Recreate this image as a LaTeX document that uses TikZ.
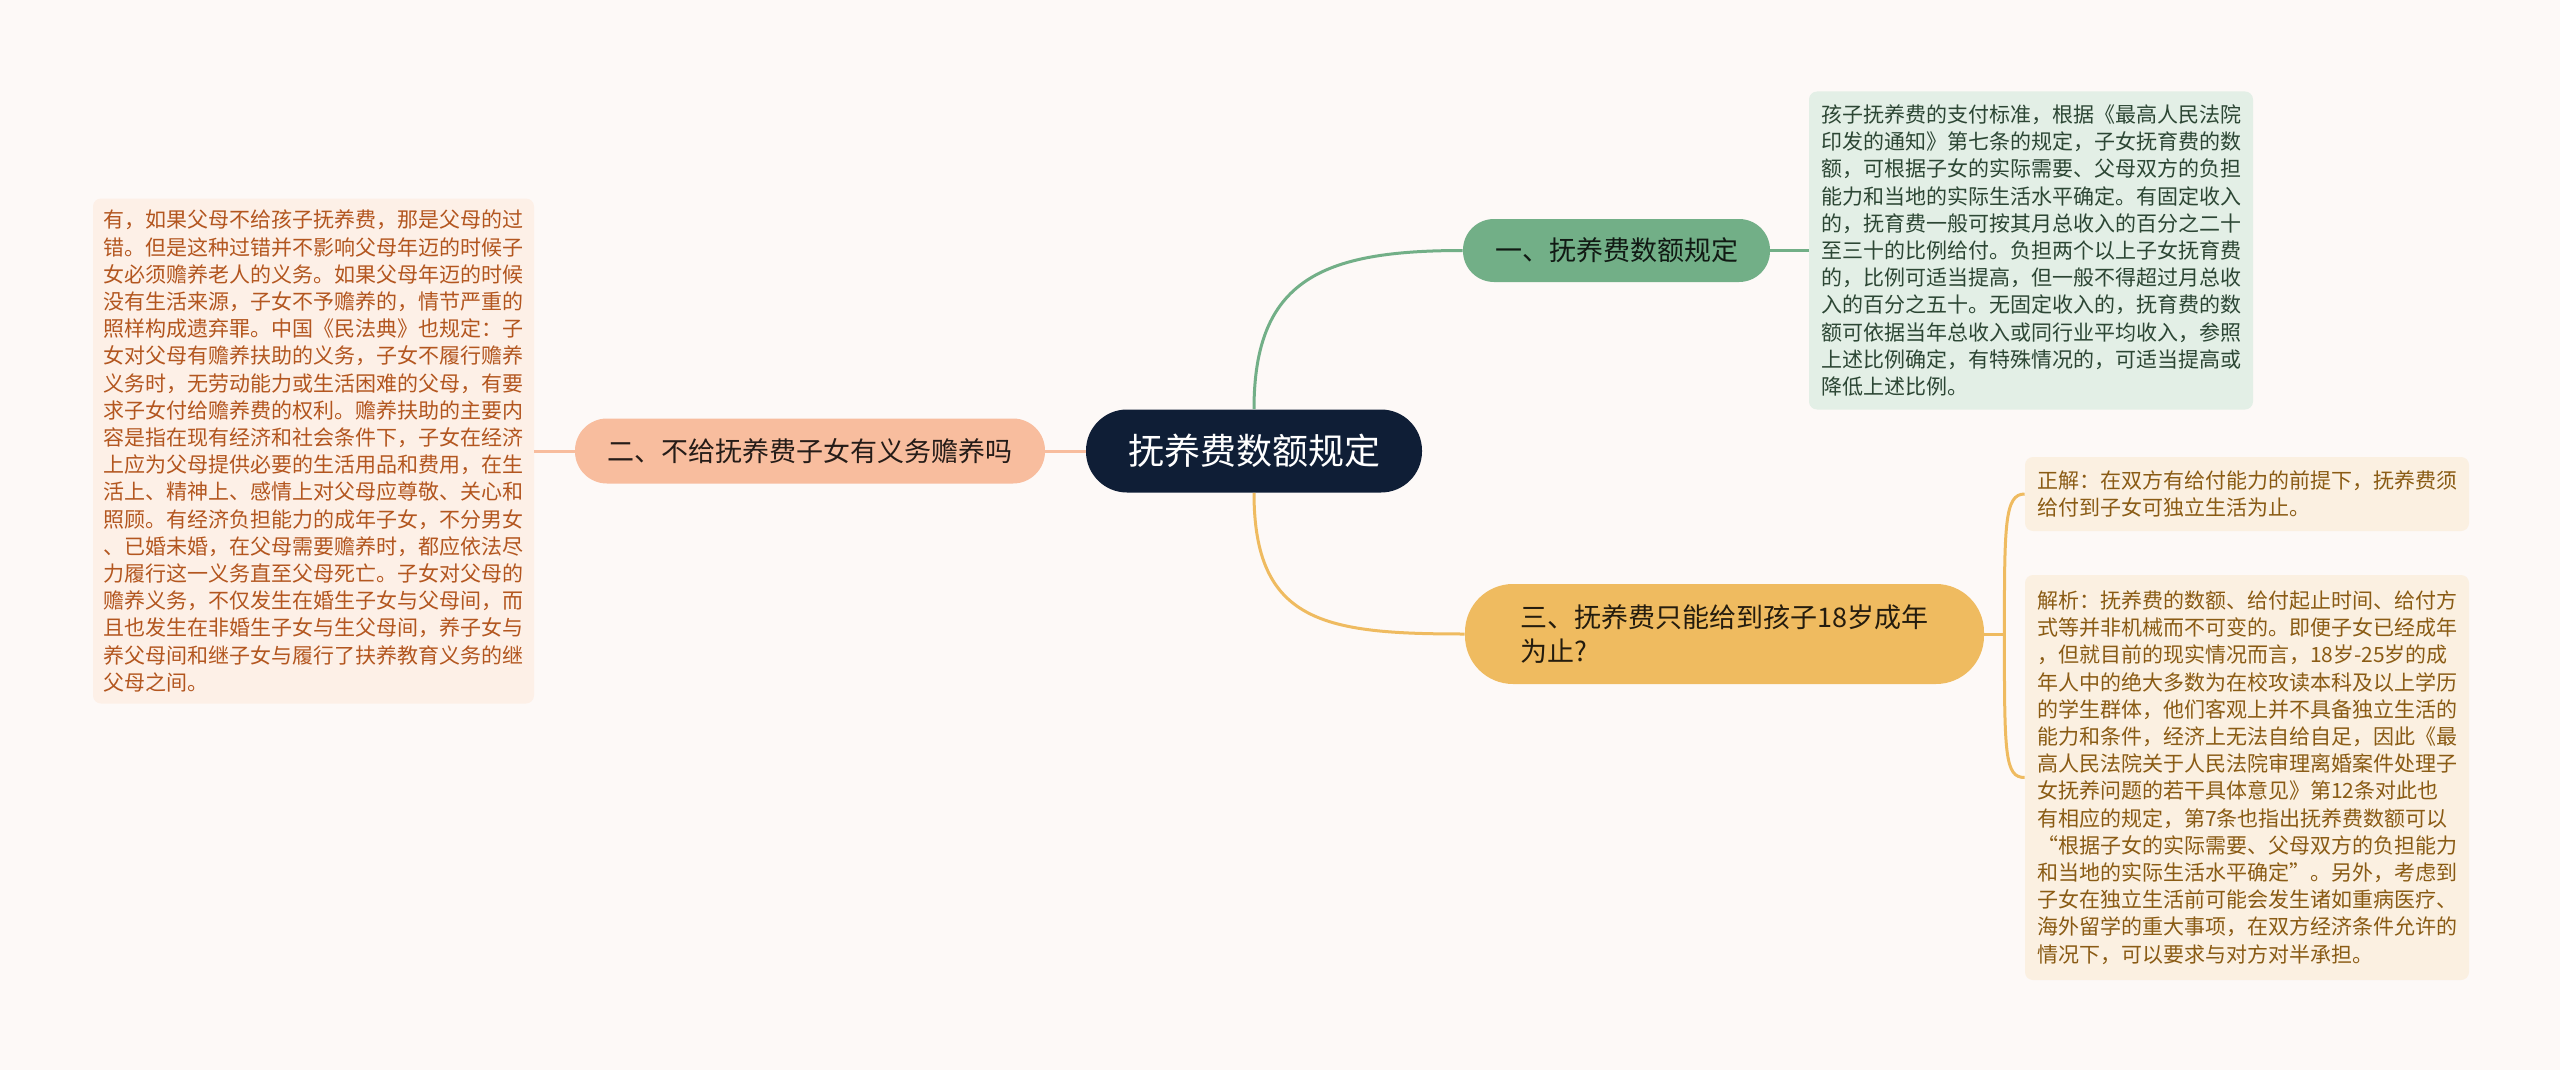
\documentclass[tikz,border=0pt]{standalone}
\usepackage{fontspec}
\setmainfont{Noto Sans CJK SC}
\usetikzlibrary{positioning,calc}
\definecolor{bgc}{HTML}{FDF9F7}
\definecolor{navy}{HTML}{0F1E36}
\definecolor{grn}{HTML}{72AF87}
\definecolor{grnlt}{HTML}{E3EFE6}
\definecolor{grntx}{HTML}{2C4634}
\definecolor{sal}{HTML}{F8BD9E}
\definecolor{sallt}{HTML}{FDF0E7}
\definecolor{saltx}{HTML}{B3561F}
\definecolor{gld}{HTML}{EFBB60}
\definecolor{gldlt}{HTML}{FBF0E1}
\definecolor{gldtx}{HTML}{8A5B14}
\begin{document}
\begin{tikzpicture}[x=0.5pt,y=0.5pt,
  topic/.style={inner sep=0pt,align=left},
  lvone/.style={topic,font=\fontsize{13.5pt}{17pt}\selectfont},
  memo/.style={topic,rounded corners=4pt,minimum width=222pt,font=\fontsize{10.5pt}{13.6pt}\selectfont},
  lg/.style={draw=grn,line width=1.5pt},
  ls/.style={draw=sal,line width=1.5pt},
  ly/.style={draw=gld,line width=1.5pt}]
\fill[bgc] (0,0) rectangle (2560,-1070);
% centre
\node[topic,fill=navy,text=white,rounded corners=20.5pt,minimum width=168pt,minimum height=41.5pt,font=\fontsize{18pt}{22pt}\selectfont] (main) at (1254,-451) {抚养费数额规定};
% branches
\node[lvone,fill=grn,text=black!85!grn,rounded corners=15.5pt,minimum width=153.5pt,minimum height=31.5pt] (n1) at (1616.5,-250.5) {一、抚养费数额规定};
\node[lvone,fill=sal,text=black!85!sal,rounded corners=16pt,minimum width=235pt,minimum height=32.5pt] (n2) at (810,-451) {二、不给抚养费子女有义务赡养吗};
\node[lvone,fill=gld,text=black!85!gld,rounded corners=24pt,minimum width=259.5pt,minimum height=50pt] (n3) at (1724.5,-634) {三、抚养费只能给到孩子18岁成年\\为止?};
% details
\node[memo,fill=grnlt,text=grntx,minimum height=159pt] (d1) at (2031,-250.5) {孩子抚养费的支付标准，根据《最高人民法院\\印发的通知》第七条的规定，子女抚育费的数\\额，可根据子女的实际需要、父母双方的负担\\能力和当地的实际生活水平确定。有固定收入\\的，抚育费一般可按其月总收入的百分之二十\\至三十的比例给付。负担两个以上子女抚育费\\的，比例可适当提高，但一般不得超过月总收\\入的百分之五十。无固定收入的，抚育费的数\\额可依据当年总收入或同行业平均收入，参照\\上述比例确定，有特殊情况的，可适当提高或\\降低上述比例。};
\node[memo,fill=sallt,text=saltx,minimum width=220.5pt,minimum height=252.5pt] (d2) at (313.5,-451) {有，如果父母不给孩子抚养费，那是父母的过\\错。但是这种过错并不影响父母年迈的时候子\\女必须赡养老人的义务。如果父母年迈的时候\\没有生活来源，子女不予赡养的，情节严重的\\照样构成遗弃罪。中国《民法典》也规定：子\\女对父母有赡养扶助的义务，子女不履行赡养\\义务时，无劳动能力或生活困难的父母，有要\\求子女付给赡养费的权利。赡养扶助的主要内\\容是指在现有经济和社会条件下，子女在经济\\上应为父母提供必要的生活用品和费用，在生\\活上、精神上、感情上对父母应尊敬、关心和\\照顾。有经济负担能力的成年子女，不分男女\\、已婚未婚，在父母需要赡养时，都应依法尽\\力履行这一义务直至父母死亡。子女对父母的\\赡养义务，不仅发生在婚生子女与父母间，而\\且也发生在非婚生子女与生父母间，养子女与\\养父母间和继子女与履行了扶养教育义务的继\\父母之间。};
\node[memo,fill=gldlt,text=gldtx,minimum height=37pt] (d3a) at (2247,-494) {正解：在双方有给付能力的前提下，抚养费须\\给付到子女可独立生活为止。};
\node[memo,fill=gldlt,text=gldtx,minimum height=202.5pt] (d3b) at (2247,-777.5) {解析：抚养费的数额、给付起止时间、给付方\\式等并非机械而不可变的。即便子女已经成年\\，但就目前的现实情况而言，18岁-25岁的成\\年人中的绝大多数为在校攻读本科及以上学历\\的学生群体，他们客观上并不具备独立生活的\\能力和条件，经济上无法自给自足，因此《最\\高人民法院关于人民法院审理离婚案件处理子\\女抚养问题的若干具体意见》第12条对此也\\有相应的规定，第7条也指出抚养费数额可以\\“根据子女的实际需要、父母双方的负担能力\\和当地的实际生活水平确定”。另外，考虑到\\子女在独立生活前可能会发生诸如重病医疗、\\海外留学的重大事项，在双方经济条件允许的\\情况下，可以要求与对方对半承担。};
% links
\draw[ls] (main) -- (n2);
\draw[ls] (n2) -- (d2);
\draw[lg] (n1) -- (d1);
\draw[lg] (main.north) .. controls +(0,130) and +(-140,0) .. (n1.west);
\draw[ly] (main.south) .. controls +(0,-130) and +(-140,0) .. (n3.west);
\coordinate (fk) at ($(n3.east)+(20,0)$);
\draw[ly] (n3) -- (fk);
\draw[ly] (fk) .. controls +(0,110) and +(-20,0) .. (d3a.west);
\draw[ly] (fk) .. controls +(0,-120) and +(-20,0) .. (d3b.west);
\end{tikzpicture}
\end{document}
